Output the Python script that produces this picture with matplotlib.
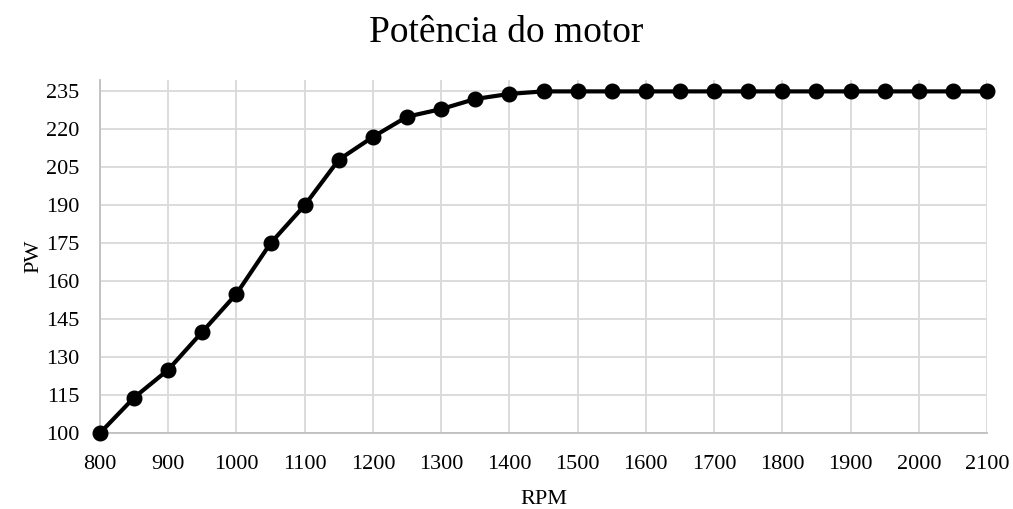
import matplotlib
matplotlib.use("Agg")
import matplotlib.pyplot as plt

rpm = [800, 850, 900, 950, 1000, 1050, 1100, 1150, 1200, 1250, 1300, 1350, 1400,
       1450, 1500, 1550, 1600, 1650, 1700, 1750, 1800, 1850, 1900, 1950, 2000, 2050, 2100]
pw = [100, 114, 125, 140, 155, 175, 190, 208, 217, 225, 228, 232, 234,
      235, 235, 235, 235, 235, 235, 235, 235, 235, 235, 235, 235, 235, 235]
x_ticks = list(range(800, 2101, 100))
y_ticks = list(range(100, 236, 15))

plt.rcParams['font.family'] = ['Liberation Serif', 'DejaVu Serif']

fig = plt.figure(figsize=(10.13, 5.09), dpi=100)
ax = fig.add_axes([100/1013, 1 - 433/509, (987-100)/1013, (433-80)/509])

ax.plot(rpm, pw, color='black', linewidth=3, marker='o', markersize=10.5, zorder=3, clip_on=False)

ax.set_xlim(800, 2100)
ax.set_ylim(100, 239.5)
ax.set_xticks(x_ticks)
ax.set_yticks(y_ticks)
ax.grid(True, color='#d9d9d9', linewidth=1.3)
ax.set_axisbelow(True)
for s in ['top', 'right']:
    ax.spines[s].set_visible(False)
ax.spines['left'].set_color('#bfbfbf')
ax.spines['bottom'].set_color('#bfbfbf')
ax.spines['left'].set_linewidth(1.3)
ax.spines['bottom'].set_linewidth(1.3)
ax.tick_params(axis='x', length=0, labelsize=16, colors='black', pad=16)
ax.tick_params(axis='y', length=0, labelsize=16, colors='black', pad=15)

ax.set_xlabel('RPM', fontsize=16, labelpad=11)
ax.set_ylabel('PW', fontsize=16, labelpad=2)
fig.text(0.5, 1 - 33/509, 'Potência do motor', ha='center', va='center', fontsize=27)

fig.savefig('out.png', dpi=100)
